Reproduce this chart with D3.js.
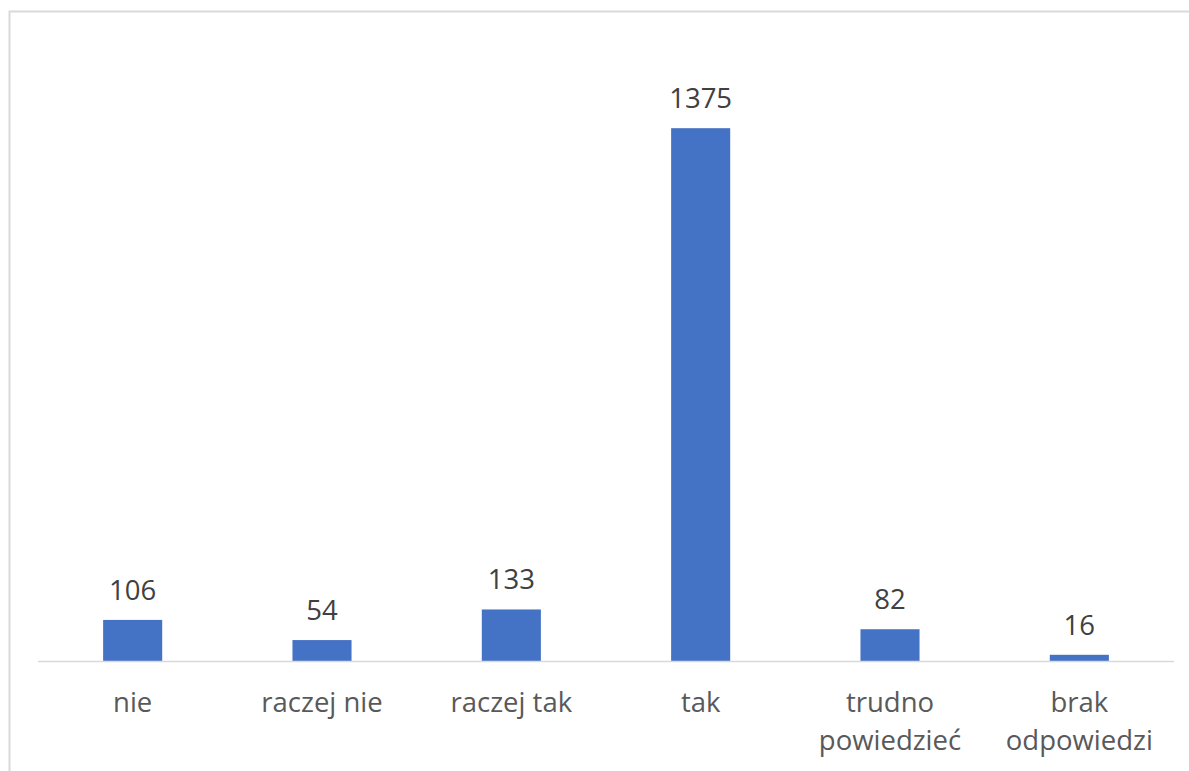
<!DOCTYPE html>
<html><head><meta charset="utf-8">
<script src="https://cdn.jsdelivr.net/npm/d3@7"></script>
<style>html,body{margin:0;padding:0;background:#fff;overflow:hidden}</style>
</head><body>
<svg id="c" width="1189" height="771"></svg>
<script>
const categories = [["nie"],["raczej nie"],["raczej tak"],["tak"],["trudno","powiedzieć"],["brak","odpowiedzi"]];
const values = [106, 54, 133, 1375, 82, 16];
const yDomain = [0, 1600];

(function () {
const svg = d3.select("#c");
const font = "'Open Sans', sans-serif";
const plotLeft = 38, plotRight = 1174, plotBase = 661, plotTop = 41;

svg.append("rect").attr("x", 9.5).attr("y", 11.5).attr("width", 1200).attr("height", 800)
  .attr("fill", "#fff").attr("stroke", "#d9d9d9").attr("stroke-width", 2);

const x = d3.scaleBand().domain(d3.range(categories.length)).range([plotLeft, plotRight]).padding(0);
const y = d3.scaleLinear().domain(yDomain).range([plotBase, plotTop]);
const bw = x.bandwidth() * 0.312;

svg.selectAll("rect.bar").data(values).join("rect").attr("class", "bar")
  .attr("x", (d, i) => x(i) + x.bandwidth() / 2 - bw / 2)
  .attr("y", d => y(d)).attr("width", bw).attr("height", d => y(0) - y(d))
  .attr("fill", "#4472C4");

svg.append("line").attr("x1", plotLeft).attr("x2", plotRight).attr("y1", y(0) + 0.5).attr("y2", y(0) + 0.5)
  .attr("stroke", "#d9d9d9").attr("stroke-width", 1.5);

svg.selectAll("text.val").data(values).join("text").attr("class", "val")
  .attr("x", (d, i) => x(i) + x.bandwidth() / 2).attr("y", d => y(d) - 20)
  .attr("text-anchor", "middle").attr("font-family", font).attr("font-size", 27.5)
  .attr("fill", "#404040").text(d => d);

const cat = svg.selectAll("text.cat").data(categories).join("text").attr("class", "cat")
  .attr("text-anchor", "middle").attr("font-family", font).attr("font-size", 27.5).attr("fill", "#595959");
cat.each(function (d, i) {
  const t = d3.select(this);
  d.forEach((line, j) => {
    t.append("tspan").attr("x", x(i) + x.bandwidth() / 2).attr("y", 712 + j * 38).text(line);
  });
});
})();
</script>
</body></html>
